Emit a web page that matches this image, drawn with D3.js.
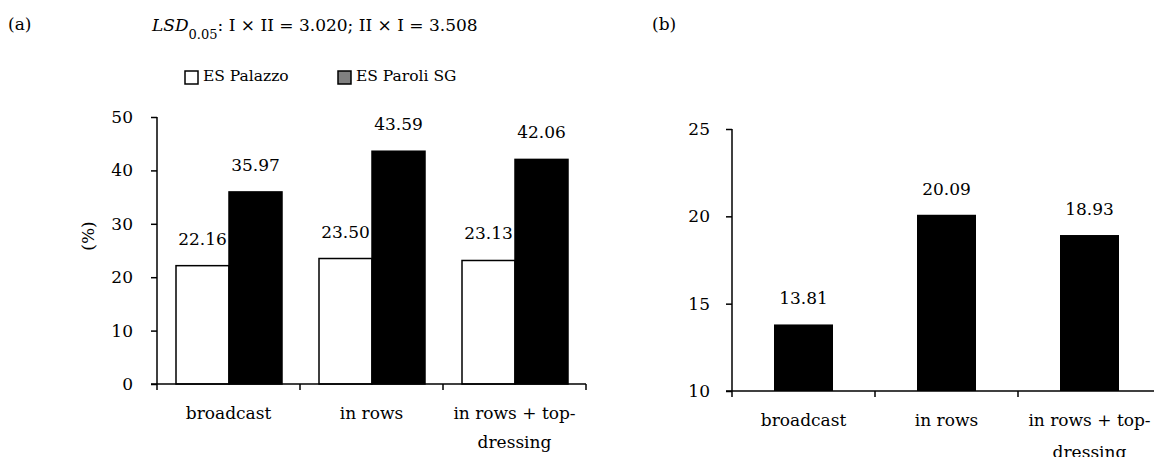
<!DOCTYPE html>
<html>
<head>
<meta charset="utf-8">
<script src="https://cdn.jsdelivr.net/npm/d3@7/dist/d3.min.js"></script>
<style>
  body { margin: 0; background: #fff; }
  text { font-family: "DejaVu Serif", "Liberation Serif", serif; font-size: 17px; fill: #000; }
</style>
</head>
<body>
<svg width="1154" height="457"></svg>
<script>
var categories = ["broadcast", "in rows", "in rows + top-dressing"];
var catLines = [["broadcast"], ["in rows"], ["in rows + top-", "dressing"]];
var seriesNames = ["ES Palazzo", "ES Paroli SG"];
var seriesFill = ["#ffffff", "#000000"];
var legendFill = ["#ffffff", "#808080"];
var palazzo = [22.16, 23.50, 23.13];
var paroli = [35.97, 43.59, 42.06];
var valuesB = [13.81, 20.09, 18.93];
var ticksA = [0, 10, 20, 30, 40, 50];
var ticksB = [10, 15, 20, 25];

var svg = d3.select("svg");

// panel labels and title
svg.append("text").attr("x", 8).attr("y", 30).text("(a)");
svg.append("text").attr("x", 652).attr("y", 30).text("(b)");

var title = svg.append("text").attr("x", 152).attr("y", 31);
title.append("tspan").style("font-style", "italic").text("LSD");
title.append("tspan").attr("dy", 8).style("font-size", "13px").text("0.05");
title.append("tspan").attr("dy", -8).text(": I \u00d7 II = 3.020; II \u00d7 I = 3.508");

// legend
var legX = [185, 338];
seriesNames.forEach(function(name, i){
    svg.append("rect")
        .attr("x", legX[i]).attr("y", 71).attr("width", 13).attr("height", 13)
        .attr("fill", legendFill[i]).attr("stroke", "#000").attr("stroke-width", 1.5);
    svg.append("text").attr("x", legX[i] + 18).attr("y", 81)
        .style("font-size", "15.5px").text(name);
});

function drawCatAxis(g, x, y0, lineGap){
    var r = x.range();
    g.append("line")
        .attr("x1", r[0] - 6).attr("x2", r[1]).attr("y1", y0).attr("y2", y0)
        .attr("stroke", "#000").attr("stroke-width", 1.5);
    var bounds = categories.map(function(c){ return x(c); }).concat([r[1]]);
    g.selectAll(".ctick").data(bounds).enter().append("line")
        .attr("x1", function(d){ return d; }).attr("x2", function(d){ return d; })
        .attr("y1", y0).attr("y2", y0 + 6)
        .attr("stroke", "#000").attr("stroke-width", 1.5);
    categories.forEach(function(c, i){
        var t = g.append("text")
            .attr("text-anchor", "middle")
            .attr("x", x(c) + x.bandwidth() / 2)
            .attr("y", y0 + 35);
        catLines[i].forEach(function(line, j){
            t.append("tspan")
                .attr("x", x(c) + x.bandwidth() / 2)
                .attr("dy", j === 0 ? 0 : lineGap)
                .text(line);
        });
    });
}

function drawValueAxis(g, y, ticks, x0, pad){
    var ax = g.append("g").attr("transform", "translate(" + x0 + ",0)")
        .call(d3.axisLeft(y).tickValues(ticks).tickSize(6).tickPadding(pad).tickFormat(d3.format("d")));
    ax.select(".domain").attr("stroke", "#000").attr("stroke-width", 1.5).attr("d", "M0," + y.range()[0] + "V" + y.range()[1]);
    ax.selectAll(".tick line").attr("stroke", "#000").attr("stroke-width", 1.5);
    ax.selectAll(".tick text").style("font-family", "DejaVu Serif").style("font-size", "17px").attr("fill", "#000");
}

// ---- chart (a)
var ga = svg.append("g");
var xa = d3.scaleBand().domain(categories).range([157, 586]);
var xsub = d3.scaleBand().domain([0, 1]).range([19, xa.bandwidth() - 18]);
var ya = d3.scaleLinear().domain([0, 50]).range([384, 117]);

var groups = ga.selectAll(".grp").data(categories).enter().append("g")
    .attr("transform", function(c){ return "translate(" + xa(c) + ",0)"; });

[palazzo, paroli].forEach(function(vals, s){
    groups.append("rect")
        .attr("x", xsub(s))
        .attr("width", xsub.bandwidth())
        .attr("y", function(c, i){ return ya(vals[i]); })
        .attr("height", function(c, i){ return ya(0) - ya(vals[i]); })
        .attr("fill", seriesFill[s]).attr("stroke", "#000").attr("stroke-width", 1.5);
    groups.append("text")
        .attr("text-anchor", "middle")
        .attr("x", xsub(s) + xsub.bandwidth() / 2)
        .attr("y", function(c, i){ return ya(vals[i]) - 21; })
        .text(function(c, i){ return vals[i].toFixed(2); });
});

drawValueAxis(ga, ya, ticksA, 157, 18);
drawCatAxis(ga, xa, 384, 29);

svg.append("text")
    .attr("transform", "translate(94,236) rotate(-90)")
    .attr("text-anchor", "middle")
    .text("(%)");

// ---- chart (b)
var gb = svg.append("g");
var xb = d3.scaleBand().domain(categories).range([732, 1161]);
var barW = 59;
var yb = d3.scaleLinear().domain([10, 25]).range([391, 129]);

gb.selectAll(".barb").data(valuesB).enter().append("rect")
    .attr("x", function(d, i){ return xb(categories[i]) + (xb.bandwidth() - barW) / 2; })
    .attr("width", barW)
    .attr("y", function(d){ return yb(d); })
    .attr("height", function(d){ return yb(10) - yb(d); })
    .attr("fill", "#000");

gb.selectAll(".lblb").data(valuesB).enter().append("text")
    .attr("text-anchor", "middle")
    .attr("x", function(d, i){ return xb(categories[i]) + xb.bandwidth() / 2; })
    .attr("y", function(d){ return yb(d) - 20; })
    .text(function(d){ return d.toFixed(2); });

drawValueAxis(gb, yb, ticksB, 732, 16);
drawCatAxis(gb, xb, 391, 32);
</script>
</body>
</html>
